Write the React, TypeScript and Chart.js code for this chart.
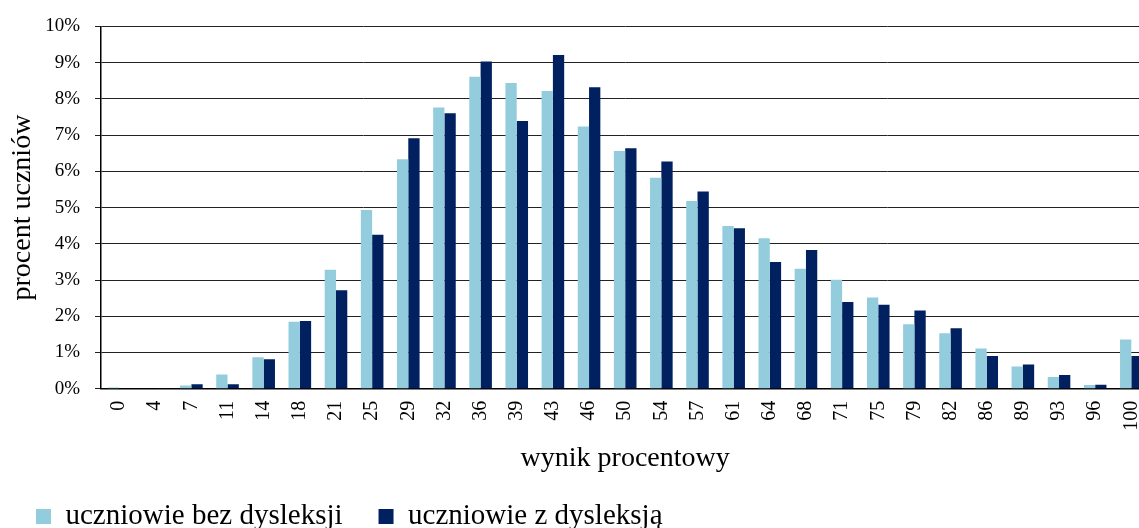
import { useEffect, useRef } from 'react';
import { Chart, registerables } from 'chart.js';

Chart.register(...registerables);

const categories = ['0', '4', '7', '11', '14', '18', '21', '25', '29', '32', '36', '39', '43', '46', '50', '54', '57', '61', '64', '68', '71', '75', '79', '82', '86', '89', '93', '96', '100'];
const bezDysleksji = [0.03, 0.01, 0.09, 0.39, 0.87, 1.85, 3.28, 4.93, 6.33, 7.76, 8.61, 8.44, 8.22, 7.24, 6.56, 5.82, 5.18, 4.49, 4.15, 3.31, 3.01, 2.52, 1.78, 1.53, 1.11, 0.61, 0.32, 0.10, 1.36];
const zDysleksja = [0.0, 0.02, 0.12, 0.12, 0.81, 1.87, 2.72, 4.25, 6.91, 7.60, 9.03, 7.39, 9.21, 8.32, 6.64, 6.27, 5.44, 4.43, 3.50, 3.83, 2.39, 2.32, 2.16, 1.67, 0.90, 0.67, 0.38, 0.11, 0.90];
const seriesNames = ['uczniowie bez dysleksji', 'uczniowie z dysleksją'];
const yMin = 0;
const yMax = 10;
const yStep = 1;

const W = 1175;
const H = 541;
const FONT = "'Liberation Serif', 'Times New Roman', Times, serif";

export default function App() {
  const ref = useRef<HTMLCanvasElement>(null);
  useEffect(() => {
    if (!ref.current) return;
    const chart = new Chart(ref.current, {
      type: 'bar',
      data: {
        labels: categories,
        datasets: [
          {
            label: seriesNames[0],
            data: bezDysleksji,
            backgroundColor: '#93CDDD',
            borderWidth: 0,
            categoryPercentage: 0.625,
            barPercentage: 1,
          },
          {
            label: seriesNames[1],
            data: zDysleksja,
            backgroundColor: '#002060',
            borderWidth: 0,
            categoryPercentage: 0.625,
            barPercentage: 1,
          },
        ],
      },
      options: {
        animation: false,
        responsive: false,
        devicePixelRatio: 1,
        layout: { padding: { left: 0, right: W - 1149.4, top: 24.3, bottom: 0 } },
        plugins: {
          legend: {
            position: 'bottom',
            align: 'start',
            labels: {
              boxWidth: 15,
              boxHeight: 15,
              padding: 36,
              color: '#000',
              font: { family: FONT, size: 29 },
            },
          },
          tooltip: { enabled: false },
        },
        scales: {
          x: {
            grid: { display: false, drawTicks: false },
            border: { display: true, color: '#000', width: 1.5 },
            ticks: {
              autoSkip: false,
              minRotation: 90,
              maxRotation: 90,
              padding: 12,
              color: '#000',
              font: { family: FONT, size: 20 },
            },
            title: {
              display: true,
              text: 'wynik procentowy',
              color: '#000',
              font: { family: FONT, size: 28 },
              padding: { top: 0, bottom: -9.8 },
            },
            afterFit: (s: any) => {
              s.height = 77.3;
            },
          },
          y: {
            min: yMin,
            max: yMax,
            ticks: {
              stepSize: yStep,
              callback: (v: any) => v + '%',
              padding: 15,
              color: '#000',
              font: { family: FONT, size: 19 },
            },
            grid: { color: '#222', lineWidth: 1, tickLength: 6, drawTicks: true },
            border: { display: true, color: '#000', width: 1.5 },
            title: {
              display: true,
              text: 'procent uczniów',
              color: '#000',
              font: { family: FONT, size: 28 },
              padding: { top: 6.2, bottom: 0 },
            },
            afterFit: (s: any) => {
              s.width = 101;
            },
          },
        },
      },
    });
    return () => chart.destroy();
  }, []);
  return (
    <div style={{ position: 'fixed', left: 0, top: 0, width: 1139, height: 528, overflow: 'hidden', background: '#fff' }}>
      <canvas ref={ref} width={W} height={H} style={{ display: 'block' }} />
    </div>
  );
}
